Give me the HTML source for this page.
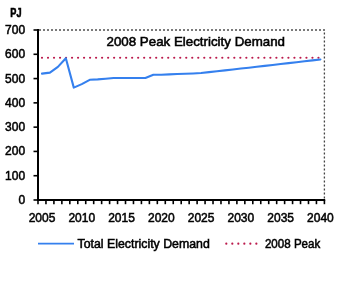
<!DOCTYPE html>
<html><head><meta charset="utf-8"><style>
html,body{margin:0;padding:0;background:#fff;width:341px;height:292px;overflow:hidden;}
svg{display:block;will-change:transform;}
</style></head><body>
<svg width="341" height="292" viewBox="0 0 341 292">
<rect x="0" y="0" width="341" height="292" fill="#fff"/>
<line x1="39" y1="30" x2="325" y2="30" stroke="#7a7a7a" stroke-width="2" stroke-dasharray="2 2"/>
<line x1="324.4" y1="32.5" x2="324.4" y2="199" stroke="#444" stroke-width="1.3" stroke-dasharray="2 2"/>
<line x1="38.0" y1="29" x2="38.0" y2="201" stroke="#000" stroke-width="2"/>
<line x1="33.5" y1="200.00" x2="38.0" y2="200.00" stroke="#000" stroke-width="1.6"/>
<text x="25.1" y="204.00" font-size="12" font-family="'Liberation Sans', sans-serif" fill="#000" stroke="#000" stroke-width="0.5" text-anchor="end">0</text>
<line x1="33.5" y1="175.71" x2="38.0" y2="175.71" stroke="#000" stroke-width="1.6"/>
<text x="25.1" y="179.71" font-size="12" font-family="'Liberation Sans', sans-serif" fill="#000" stroke="#000" stroke-width="0.5" text-anchor="end">100</text>
<line x1="33.5" y1="151.43" x2="38.0" y2="151.43" stroke="#000" stroke-width="1.6"/>
<text x="25.1" y="155.43" font-size="12" font-family="'Liberation Sans', sans-serif" fill="#000" stroke="#000" stroke-width="0.5" text-anchor="end">200</text>
<line x1="33.5" y1="127.14" x2="38.0" y2="127.14" stroke="#000" stroke-width="1.6"/>
<text x="25.1" y="131.14" font-size="12" font-family="'Liberation Sans', sans-serif" fill="#000" stroke="#000" stroke-width="0.5" text-anchor="end">300</text>
<line x1="33.5" y1="102.86" x2="38.0" y2="102.86" stroke="#000" stroke-width="1.6"/>
<text x="25.1" y="106.86" font-size="12" font-family="'Liberation Sans', sans-serif" fill="#000" stroke="#000" stroke-width="0.5" text-anchor="end">400</text>
<line x1="33.5" y1="78.57" x2="38.0" y2="78.57" stroke="#000" stroke-width="1.6"/>
<text x="25.1" y="82.57" font-size="12" font-family="'Liberation Sans', sans-serif" fill="#000" stroke="#000" stroke-width="0.5" text-anchor="end">500</text>
<line x1="33.5" y1="54.29" x2="38.0" y2="54.29" stroke="#000" stroke-width="1.6"/>
<text x="25.1" y="58.29" font-size="12" font-family="'Liberation Sans', sans-serif" fill="#000" stroke="#000" stroke-width="0.5" text-anchor="end">600</text>
<line x1="33.5" y1="30.00" x2="38.0" y2="30.00" stroke="#000" stroke-width="1.6"/>
<text x="25.1" y="34.00" font-size="12" font-family="'Liberation Sans', sans-serif" fill="#000" stroke="#000" stroke-width="0.5" text-anchor="end">700</text>
<line x1="37.0" y1="200" x2="325.2" y2="200" stroke="#000" stroke-width="2"/>
<line x1="38.00" y1="200" x2="38.00" y2="204.2" stroke="#000" stroke-width="1.6"/>
<line x1="45.96" y1="200" x2="45.96" y2="204.2" stroke="#000" stroke-width="1.6"/>
<line x1="53.91" y1="200" x2="53.91" y2="204.2" stroke="#000" stroke-width="1.6"/>
<line x1="61.87" y1="200" x2="61.87" y2="204.2" stroke="#000" stroke-width="1.6"/>
<line x1="69.82" y1="200" x2="69.82" y2="204.2" stroke="#000" stroke-width="1.6"/>
<line x1="77.78" y1="200" x2="77.78" y2="204.2" stroke="#000" stroke-width="1.6"/>
<line x1="85.73" y1="200" x2="85.73" y2="204.2" stroke="#000" stroke-width="1.6"/>
<line x1="93.69" y1="200" x2="93.69" y2="204.2" stroke="#000" stroke-width="1.6"/>
<line x1="101.64" y1="200" x2="101.64" y2="204.2" stroke="#000" stroke-width="1.6"/>
<line x1="109.60" y1="200" x2="109.60" y2="204.2" stroke="#000" stroke-width="1.6"/>
<line x1="117.56" y1="200" x2="117.56" y2="204.2" stroke="#000" stroke-width="1.6"/>
<line x1="125.51" y1="200" x2="125.51" y2="204.2" stroke="#000" stroke-width="1.6"/>
<line x1="133.47" y1="200" x2="133.47" y2="204.2" stroke="#000" stroke-width="1.6"/>
<line x1="141.42" y1="200" x2="141.42" y2="204.2" stroke="#000" stroke-width="1.6"/>
<line x1="149.38" y1="200" x2="149.38" y2="204.2" stroke="#000" stroke-width="1.6"/>
<line x1="157.33" y1="200" x2="157.33" y2="204.2" stroke="#000" stroke-width="1.6"/>
<line x1="165.29" y1="200" x2="165.29" y2="204.2" stroke="#000" stroke-width="1.6"/>
<line x1="173.24" y1="200" x2="173.24" y2="204.2" stroke="#000" stroke-width="1.6"/>
<line x1="181.20" y1="200" x2="181.20" y2="204.2" stroke="#000" stroke-width="1.6"/>
<line x1="189.16" y1="200" x2="189.16" y2="204.2" stroke="#000" stroke-width="1.6"/>
<line x1="197.11" y1="200" x2="197.11" y2="204.2" stroke="#000" stroke-width="1.6"/>
<line x1="205.07" y1="200" x2="205.07" y2="204.2" stroke="#000" stroke-width="1.6"/>
<line x1="213.02" y1="200" x2="213.02" y2="204.2" stroke="#000" stroke-width="1.6"/>
<line x1="220.98" y1="200" x2="220.98" y2="204.2" stroke="#000" stroke-width="1.6"/>
<line x1="228.93" y1="200" x2="228.93" y2="204.2" stroke="#000" stroke-width="1.6"/>
<line x1="236.89" y1="200" x2="236.89" y2="204.2" stroke="#000" stroke-width="1.6"/>
<line x1="244.84" y1="200" x2="244.84" y2="204.2" stroke="#000" stroke-width="1.6"/>
<line x1="252.80" y1="200" x2="252.80" y2="204.2" stroke="#000" stroke-width="1.6"/>
<line x1="260.76" y1="200" x2="260.76" y2="204.2" stroke="#000" stroke-width="1.6"/>
<line x1="268.71" y1="200" x2="268.71" y2="204.2" stroke="#000" stroke-width="1.6"/>
<line x1="276.67" y1="200" x2="276.67" y2="204.2" stroke="#000" stroke-width="1.6"/>
<line x1="284.62" y1="200" x2="284.62" y2="204.2" stroke="#000" stroke-width="1.6"/>
<line x1="292.58" y1="200" x2="292.58" y2="204.2" stroke="#000" stroke-width="1.6"/>
<line x1="300.53" y1="200" x2="300.53" y2="204.2" stroke="#000" stroke-width="1.6"/>
<line x1="308.49" y1="200" x2="308.49" y2="204.2" stroke="#000" stroke-width="1.6"/>
<line x1="316.44" y1="200" x2="316.44" y2="204.2" stroke="#000" stroke-width="1.6"/>
<line x1="324.40" y1="200" x2="324.40" y2="204.2" stroke="#000" stroke-width="1.6"/>
<text x="41.98" y="221.8" font-size="12" font-family="'Liberation Sans', sans-serif" fill="#000" stroke="#000" stroke-width="0.5" text-anchor="middle">2005</text>
<text x="81.76" y="221.8" font-size="12" font-family="'Liberation Sans', sans-serif" fill="#000" stroke="#000" stroke-width="0.5" text-anchor="middle">2010</text>
<text x="121.53" y="221.8" font-size="12" font-family="'Liberation Sans', sans-serif" fill="#000" stroke="#000" stroke-width="0.5" text-anchor="middle">2015</text>
<text x="161.31" y="221.8" font-size="12" font-family="'Liberation Sans', sans-serif" fill="#000" stroke="#000" stroke-width="0.5" text-anchor="middle">2020</text>
<text x="201.09" y="221.8" font-size="12" font-family="'Liberation Sans', sans-serif" fill="#000" stroke="#000" stroke-width="0.5" text-anchor="middle">2025</text>
<text x="240.87" y="221.8" font-size="12" font-family="'Liberation Sans', sans-serif" fill="#000" stroke="#000" stroke-width="0.5" text-anchor="middle">2030</text>
<text x="280.64" y="221.8" font-size="12" font-family="'Liberation Sans', sans-serif" fill="#000" stroke="#000" stroke-width="0.5" text-anchor="middle">2035</text>
<text x="320.42" y="221.8" font-size="12" font-family="'Liberation Sans', sans-serif" fill="#000" stroke="#000" stroke-width="0.5" text-anchor="middle">2040</text>
<line x1="42" y1="57.75" x2="320" y2="57.75" stroke="#bb1a4c" stroke-width="2.2" stroke-linecap="round" stroke-dasharray="0.01 6"/>
<polyline points="41.98,73.60 49.93,72.60 57.89,66.90 65.84,58.30 73.80,87.60 81.76,84.10 89.71,79.80 97.67,79.40 105.62,78.70 113.58,78.00 121.53,78.00 129.49,78.00 137.44,78.00 145.40,78.00 153.36,74.80 161.31,74.75 169.27,74.40 177.22,74.05 185.18,73.75 193.13,73.45 201.09,73.05 209.04,72.15 217.00,71.25 224.96,70.35 232.91,69.45 240.87,68.55 248.82,67.70 256.78,66.78 264.73,65.87 272.69,64.95 280.64,64.03 288.60,63.12 296.56,62.20 304.51,61.28 312.47,60.37 320.42,59.45" fill="none" stroke="#3580ee" stroke-width="2.1" stroke-linejoin="round" stroke-linecap="round"/>
<text x="106.5" y="45.7" font-size="13.4" font-family="'Liberation Sans', sans-serif" fill="#000" stroke="#000" stroke-width="0.55" textLength="178.5" lengthAdjust="spacingAndGlyphs">2008 Peak Electricity Demand</text>
<text x="10.3" y="16.8" font-size="12.5" font-family="'Liberation Sans', sans-serif" fill="#000" stroke="#000" stroke-width="0.6" font-weight="bold" textLength="11.2" lengthAdjust="spacingAndGlyphs">PJ</text>
<line x1="38" y1="243.6" x2="74" y2="243.6" stroke="#3580ee" stroke-width="1.9"/>
<text x="77.5" y="247.6" font-size="12" font-family="'Liberation Sans', sans-serif" fill="#000" stroke="#000" stroke-width="0.5" textLength="132.3" lengthAdjust="spacingAndGlyphs">Total Electricity Demand</text>
<line x1="226.3" y1="243.7" x2="257" y2="243.7" stroke="#bb1a4c" stroke-width="2.2" stroke-linecap="round" stroke-dasharray="0.01 6"/>
<text x="264.9" y="247.6" font-size="12" font-family="'Liberation Sans', sans-serif" fill="#000" stroke="#000" stroke-width="0.5" textLength="55.4" lengthAdjust="spacingAndGlyphs">2008 Peak</text>
</svg>
</body></html>
